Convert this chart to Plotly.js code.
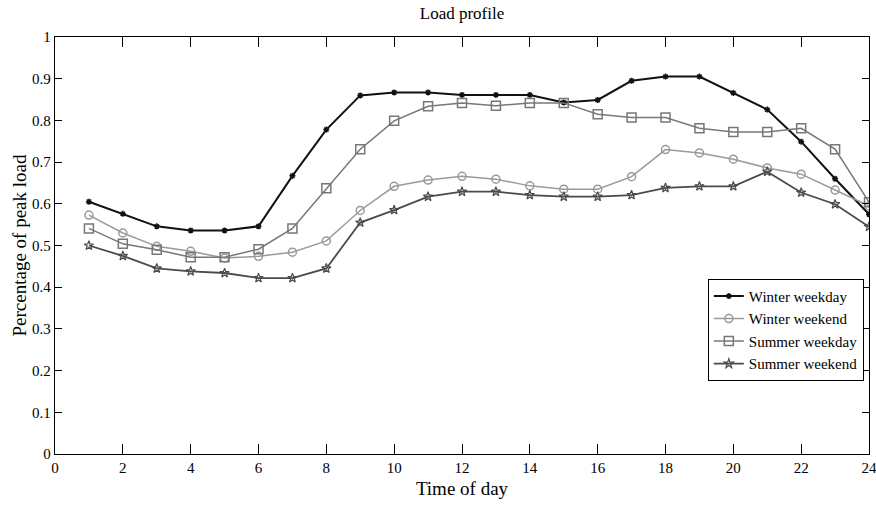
<!DOCTYPE html>
<html>
<head>
<meta charset="utf-8">
<script src="https://cdn.plot.ly/plotly-3.0.1.min.js"></script>
<style>html,body{margin:0;padding:0;background:#fff;}#chart{width:876px;height:506px;}</style>
</head>
<body>
<div id="chart"></div>
<script>
const hours = [1,2,3,4,5,6,7,8,9,10,11,12,13,14,15,16,17,18,19,20,21,22,23,24];
const winterWeekday = [0.605,0.576,0.546,0.536,0.536,0.546,0.667,0.778,0.860,0.867,0.867,0.861,0.861,0.861,0.843,0.849,0.895,0.905,0.905,0.866,0.826,0.749,0.660,0.575];
const winterWeekend = [0.573,0.530,0.498,0.486,0.470,0.474,0.484,0.511,0.584,0.642,0.657,0.666,0.659,0.643,0.635,0.635,0.665,0.730,0.722,0.707,0.686,0.671,0.633,0.595];
const summerWeekday = [0.541,0.504,0.490,0.472,0.472,0.491,0.541,0.637,0.731,0.799,0.834,0.842,0.835,0.842,0.842,0.815,0.807,0.807,0.781,0.772,0.772,0.781,0.731,0.604];
const summerWeekend = [0.500,0.475,0.445,0.438,0.434,0.422,0.422,0.445,0.555,0.585,0.617,0.629,0.629,0.621,0.617,0.617,0.621,0.638,0.642,0.642,0.677,0.627,0.599,0.545];
const seriesNames = ["Winter weekday","Winter weekend","Summer weekday","Summer weekend"];
const xTicks = [0,2,4,6,8,10,12,14,16,18,20,22,24];
const yTicks = [0,0.1,0.2,0.3,0.4,0.5,0.6,0.7,0.8,0.9,1];

const font = "Liberation Serif, Times New Roman, serif";
const traces = [
  {x: hours, y: winterWeekday, name: seriesNames[0], mode: "lines+markers",
   line: {color: "#111", width: 2}, marker: {symbol: "asterisk-open", size: 5, color: "#111", line: {color: "#111", width: 1.5}}},
  {x: hours, y: winterWeekend, name: seriesNames[1], mode: "lines+markers",
   line: {color: "#9a9a9a", width: 1.5}, marker: {symbol: "circle-open", size: 8, color: "#9a9a9a", line: {color: "#9a9a9a", width: 1.5}}},
  {x: hours, y: summerWeekday, name: seriesNames[2], mode: "lines+markers",
   line: {color: "#777", width: 1.5}, marker: {symbol: "square-open", size: 9, color: "#777", line: {color: "#777", width: 1.5}}},
  {x: hours, y: summerWeekend, name: seriesNames[3], mode: "lines+markers",
   line: {color: "#4a4a4a", width: 1.8}, marker: {symbol: "star-open", size: 7, color: "#4a4a4a", line: {color: "#4a4a4a", width: 1.2}}}
];

const layout = {
  width: 876, height: 506,
  margin: {l: 55, r: 7, t: 37, b: 52},
  paper_bgcolor: "#fff", plot_bgcolor: "#fff",
  font: {family: font, color: "#000", size: 14},
  title: {text: "Load profile", font: {family: font, size: 17, color: "#000"}, x: 0.5, xref: "paper", y: 0.985, yanchor: "top"},
  xaxis: {
    range: [0, 24], tickvals: xTicks, ticktext: xTicks.map(String),
    ticks: "inside", ticklen: 10, tickcolor: "#000", tickwidth: 1,
    showline: true, linecolor: "#000", linewidth: 1.2, mirror: "ticks",
    showgrid: false, zeroline: false, ticklabeloverflow: "allow",
    tickfont: {family: font, size: 15},
    title: {text: "Time of day", font: {family: font, size: 19}, standoff: 6}
  },
  yaxis: {
    range: [0, 1], tickvals: yTicks, ticktext: yTicks.map(String),
    ticks: "inside", ticklen: 7, tickcolor: "#000", tickwidth: 1,
    showline: true, linecolor: "#000", linewidth: 1.2, mirror: "ticks",
    showgrid: false, zeroline: false,
    tickfont: {family: font, size: 15},
    title: {text: "Percentage of peak load", font: {family: font, size: 19}, standoff: 0}
  },
  legend: {
    x: 0.802, y: 0.42, xanchor: "left", yanchor: "top",
    bgcolor: "#fff", bordercolor: "#000", borderwidth: 1,
    font: {family: font, size: 15}, tracegroupgap: 0, itemwidth: 30
  },
  showlegend: true
};

Plotly.newPlot("chart", traces, layout, {displayModeBar: false, staticPlot: true});
</script>
</body>
</html>
